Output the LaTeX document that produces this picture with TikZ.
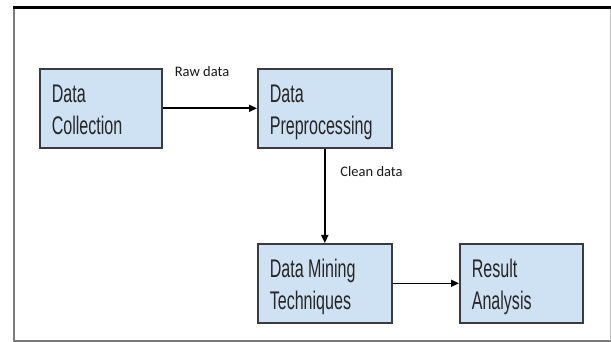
\documentclass[tikz,border=0pt]{standalone}
\usepackage{fontspec}
\usetikzlibrary{arrows.meta}
\newfontfamily\boxfont{Liberation Sans}[FakeStretch=0.63]
\newfontfamily\lblfont{Carlito}
\newcommand\kastenschrift{\boxfont\fontsize{25.5pt}{32pt}\selectfont}
\definecolor{kasten}{HTML}{CFE2F3}
\definecolor{rand}{HTML}{3A3D40}
\definecolor{schrift}{HTML}{262626}
\definecolor{rahmgrau}{HTML}{7A7A7A}
\tikzset{
  stufe/.style={fill=kasten,draw=rand,line width=1.6pt,anchor=north west,
    inner xsep=12pt,inner ysep=0pt,text height=34pt,text depth=45pt,
    align=left,text=schrift,font=\kastenschrift},
  pfeil/.style={-{Triangle[length=8pt,width=7pt]},black,line width=1.6pt},
  lbl/.style={font=\lblfont\fontsize{14.5pt}{16pt}\selectfont,text=black!90,inner sep=0pt},
  rahmen/.style={rahmgrau,line width=2pt},
}

\begin{document}
\begin{tikzpicture}[x=1pt,y=-1pt]
  \useasboundingbox (0,0) rectangle (611,342);
  % outer frame
  \draw[rahmen] (14,342) -- (14,7.5);
  \draw[rahmen] (14,341) -- (611,341);
  \draw[black!25,line width=1pt] (610,7.5) -- (610,341);
  \draw[black,line width=2.4pt] (13,7.5) -- (611,7.5);
  % steps
  \node[stufe,text width=98pt] (sammeln) at (39,68) {Data\\Collection};
  \node[stufe,text width=110pt] (vorver) at (257,68) {Data\\Preprocessing};
  \node[stufe,text width=110pt] (mining) at (257,243) {Data\kern4.5pt Mining\\Techniques};
  \node[stufe,text width=99pt] (ergebnis) at (459,243) {Result\\Analysis};
  % flow
  \draw[pfeil] (sammeln) -- (vorver);
  \draw[pfeil] (vorver) -- (mining);
  \draw[pfeil] (mining) -- (ergebnis);
  \node[lbl] (roh) at (202,71.5) {Raw data};
  \node[lbl] (sauber) at (371.5,171.5) {Clean data};
\end{tikzpicture}
\end{document}
